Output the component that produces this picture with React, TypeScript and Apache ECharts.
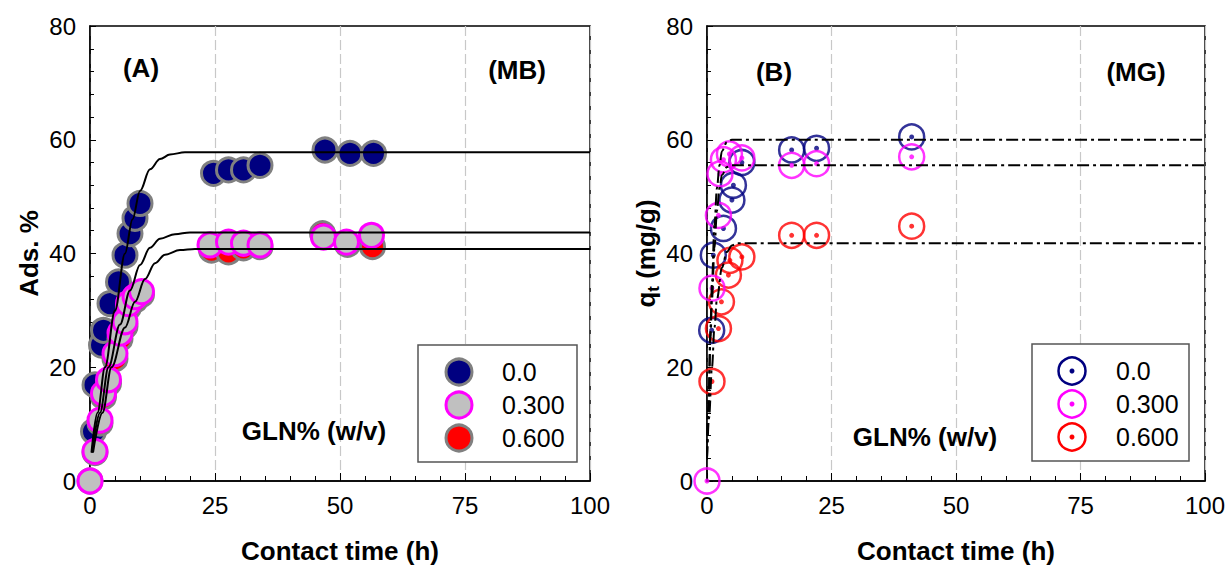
import React, { useEffect, useRef } from "react";
import * as echarts from "echarts";

// ---------- Panel A (MB) : Ads. % ----------
const A_T0 = [0.7, 1, 2.3, 2.7, 4, 5.7, 7, 8, 9, 10, 24.7, 27.7, 30.7, 34, 47, 52, 56.7];
const A_V0 = [8.7, 16.9, 23.9, 26.5, 31.2, 35, 39.7, 43.5, 46.2, 48.8, 54.1, 54.7, 54.7, 55.5, 58.2, 57.6, 57.6];
const A_T3 = [0, 1, 2, 2.7, 3.7, 5, 6, 7, 7.7, 9, 10.3, 24, 27.7, 30.7, 34, 46.7, 51.3, 56.3];
const A_V3 = [0, 5.2, 10.7, 15.4, 17.8, 22.4, 26, 28, 31.2, 32.4, 33.3, 41.5, 42, 41.8, 41.5, 42.9, 42, 43.2];
const A_T6 = [0, 1, 2, 2.7, 3.7, 5, 6, 7, 7.7, 9, 10.3, 24.3, 27.7, 30.7, 34, 46.5, 51.5, 56.5];
const A_V6 = [0, 5, 10.2, 14.8, 17.2, 21.5, 25, 27.2, 30.5, 31.8, 32.8, 40.6, 40.3, 41, 41.2, 43.5, 41.6, 41.2];

// fitted curves
const A_FIT0_T = [0.3, 1.5, 3, 5, 7, 8.5, 10, 12, 14, 16, 19, 100];
const A_FIT0_V = [5, 12, 20, 30, 40, 46, 51, 54.8, 56.6, 57.4, 57.8, 57.8];
const A_FIT3_T = [0.4, 2, 3.7, 6, 8, 10, 12, 14, 17, 20, 100];
const A_FIT3_V = [5, 12, 20, 27.5, 33.5, 38, 41, 42.6, 43.4, 43.7, 43.7];
const A_FIT6_T = [0.6, 2.5, 4.3, 7, 9, 11, 13, 15, 18, 21, 100];
const A_FIT6_V = [5, 12, 20, 27, 31.5, 35.5, 38.3, 39.8, 40.6, 40.8, 40.8];

// ---------- Panel B (MG) : q_t (mg/g) ----------
const B_T0 = [0.94, 1.27, 3.3, 5, 5.3, 7, 17, 22, 41.1];
const B_V0 = [26.5, 39.7, 44.4, 49.4, 52, 56, 58.2, 58.5, 60.5];
const B_T3 = [0, 1, 2.3, 2.6, 3.3, 4.5, 7, 17, 22, 41.1];
const B_V3 = [0, 33.9, 46.7, 54, 56.5, 57.5, 56.8, 55.5, 55.8, 57];
const B_T6 = [1, 2.3, 2.9, 4.3, 4.6, 7, 17, 22, 41.1];
const B_V6 = [17.5, 26.8, 31.5, 36.2, 38.8, 39.4, 43.2, 43.2, 44.8];

const B_FIT0_T = [0, 0.3, 0.7, 1, 1.5, 2, 2.5, 3, 4, 5, 100];
const B_FIT0_V = [4, 14, 27, 35, 45, 51.5, 55.5, 58, 59.6, 60, 60];
const B_FIT3_T = [0, 0.3, 0.7, 1, 1.5, 2, 2.5, 3, 4, 5, 100];
const B_FIT3_V = [4, 13, 25, 32, 41, 47.5, 51.5, 53.8, 55.2, 55.5, 55.5];
const B_FIT6_T = [0, 0.4, 1, 1.5, 2, 3, 4, 5, 6, 100];
const B_FIT6_V = [4, 11, 20, 27, 32, 37.5, 40.3, 41.4, 41.8, 41.8];

const LEGEND_LABELS = ["0.0", "0.300", "0.600"];
const X_TICKS = { min: 0, max: 100, interval: 25 };
const Y_TICKS = { min: 0, max: 80, interval: 20 };

const NAVY = "#000080";
const MAGENTA = "#ff00ff";
const RED = "#ff0000";
const GRAYFILL = "#c0c0c0";
const GRAYEDGE = "#808080";
const FONT = "Liberation Sans, Arial, sans-serif";

const zip = (t: number[], v: number[]) => t.map((x, i) => [x, v[i]]);

function App() {
  const ref = useRef<HTMLDivElement>(null);
  useEffect(() => {
    if (!ref.current) return;
    const chart = echarts.init(ref.current, null, { renderer: "svg" });

    const xAxisBase = (gridIndex: number) => ({
      type: "value",
      gridIndex,
      min: X_TICKS.min,
      max: X_TICKS.max,
      interval: X_TICKS.interval,
      name: "Contact time (h)",
      nameLocation: "middle",
      nameGap: 57,
      nameTextStyle: { fontFamily: FONT, fontSize: 26, fontWeight: "bold", color: "#000" },
      axisLine: { show: true, lineStyle: { color: "#000", width: 1.5 } },
      axisTick: { show: true, inside: true, length: 8, lineStyle: { color: "#000", width: 1 } },
      minorTick: { show: true, splitNumber: 5, length: 5, lineStyle: { color: "#000", width: 1 } },
      axisLabel: { fontFamily: FONT, fontSize: 24, color: "#000", margin: 12 },
      splitLine: { show: true, lineStyle: { color: "#c8c8c8", width: 1.2, type: [10, 4] } },
      minorSplitLine: { show: false },
    });
    const yAxisBase = (gridIndex: number, name: string, nameGap: number) => ({
      type: "value",
      gridIndex,
      min: Y_TICKS.min,
      max: Y_TICKS.max,
      interval: Y_TICKS.interval,
      name,
      nameLocation: "middle",
      nameGap,
      nameRotate: 90,
      nameTextStyle: {
        fontFamily: FONT,
        fontSize: 26,
        fontWeight: "bold",
        color: "#000",
        rich: {
          sub: { fontFamily: FONT, fontSize: 17, fontWeight: "bold", color: "#000", verticalAlign: "bottom", padding: [16, 0, 0, 0] },
        },
      },
      axisLine: { show: true, lineStyle: { color: "#000", width: 1.5 } },
      axisTick: { show: true, inside: true, length: 6, lineStyle: { color: "#000", width: 1 } },
      minorTick: { show: true, splitNumber: 5, length: 4, lineStyle: { color: "#000", width: 1 } },
      axisLabel: { fontFamily: FONT, fontSize: 24, color: "#000", margin: 14 },
      splitLine: { show: false },
    });

    const filled = (name: string, t: number[], v: number[], fill: string, edge: string, xi: number) => ({
      name,
      type: "scatter",
      xAxisIndex: xi,
      yAxisIndex: xi,
      data: zip(t, v),
      symbol: "circle",
      symbolSize: 24,
      clip: false,
      itemStyle: { color: fill, borderColor: edge, borderWidth: 3, opacity: 1 },
      emphasis: { disabled: true },
    });
    const ring = (name: string, t: number[], v: number[], color: string) => [
      {
        name,
        type: "scatter",
        xAxisIndex: 1,
        yAxisIndex: 1,
        data: zip(t, v),
        symbol: "circle",
        symbolSize: 25,
        clip: false,
        itemStyle: { color: "rgba(0,0,0,0)", borderColor: color, borderWidth: 2.5 },
        emphasis: { disabled: true },
      },
      {
        name: name + " dot",
        type: "scatter",
        xAxisIndex: 1,
        yAxisIndex: 1,
        data: zip(t, v),
        symbol: "circle",
        symbolSize: 5,
        clip: false,
        itemStyle: { color },
        emphasis: { disabled: true },
      },
    ];
    const curve = (name: string, t: number[], v: number[], xi: number, dashed: boolean) => ({
      name,
      type: "line",
      xAxisIndex: xi,
      yAxisIndex: xi,
      data: zip(t, v),
      showSymbol: false,
      symbol: "none",
      smooth: 0.35,
      smoothMonotone: "x",
      z: 5,
      lineStyle: { color: "#000", width: 2, type: dashed ? [12, 4, 3, 4] : "solid" },
      emphasis: { disabled: true },
    });

    const txt = (x: number, y: number, text: string, opts: any = {}) => ({
      type: "text",
      x,
      y,
      z: 100,
      style: {
        text,
        fontFamily: FONT,
        fontSize: 26,
        fontWeight: "bold",
        fill: "#000",
        textAlign: "center",
        textVerticalAlign: "middle",
        ...opts,
      },
    });

    const legendA: any[] = [
      { type: "rect", z: 100, shape: { x: 418, y: 345, width: 159, height: 117 }, style: { fill: "#fff", stroke: "#555", lineWidth: 1.5 } },
    ];
    const aFills = [NAVY, GRAYFILL, RED];
    const aEdges = [GRAYEDGE, MAGENTA, GRAYEDGE];
    const rowsA = [372, 405, 438];
    LEGEND_LABELS.forEach((lab, i) => {
      legendA.push({ type: "circle", z: 101, shape: { cx: 459, cy: rowsA[i], r: 13 }, style: { fill: aFills[i], stroke: aEdges[i], lineWidth: 3 } });
      legendA.push({ type: "text", z: 101, x: 502, y: rowsA[i], style: { text: lab, fontFamily: FONT, fontSize: 25, fill: "#000", textAlign: "left", textVerticalAlign: "middle" } });
    });
    const legendB: any[] = [
      { type: "rect", z: 100, shape: { x: 1032, y: 344, width: 157, height: 117 }, style: { fill: "#fff", stroke: "#555", lineWidth: 1.5 } },
    ];
    const bCols = [NAVY, MAGENTA, RED];
    const rowsB = [371, 404, 437];
    LEGEND_LABELS.forEach((lab, i) => {
      legendB.push({ type: "circle", z: 101, shape: { cx: 1072, cy: rowsB[i], r: 13.5 }, style: { fill: "none", stroke: bCols[i], lineWidth: 2.5 } });
      legendB.push({ type: "circle", z: 101, shape: { cx: 1072, cy: rowsB[i], r: 2.5 }, style: { fill: bCols[i] } });
      legendB.push({ type: "text", z: 101, x: 1116, y: rowsB[i], style: { text: lab, fontFamily: FONT, fontSize: 25, fill: "#000", textAlign: "left", textVerticalAlign: "middle" } });
    });

    const option: any = {
      animation: false,
      backgroundColor: "#fff",
      grid: [
        { left: 90, top: 26, width: 500, height: 455, show: true, borderColor: "#000", borderWidth: 1.5, backgroundColor: "transparent", containLabel: false },
        { left: 707, top: 26, width: 498, height: 455, show: true, borderColor: "#000", borderWidth: 1.5, backgroundColor: "transparent", containLabel: false },
      ],
      xAxis: [xAxisBase(0), xAxisBase(1)],
      yAxis: [yAxisBase(0, "Ads. %", 48), yAxisBase(1, "q{sub|t} (mg/g)", 44)],
      series: [
        filled("0.0", A_T0, A_V0, NAVY, GRAYEDGE, 0),
        filled("0.600", A_T6, A_V6, RED, GRAYEDGE, 0),
        filled("0.300", A_T3, A_V3, GRAYFILL, MAGENTA, 0),
        curve("fit 0.0", A_FIT0_T, A_FIT0_V, 0, false),
        curve("fit 0.300", A_FIT3_T, A_FIT3_V, 0, false),
        curve("fit 0.600", A_FIT6_T, A_FIT6_V, 0, false),
        ...ring("B 0.0", B_T0, B_V0, NAVY),
        ...ring("B 0.600", B_T6, B_V6, RED),
        ...ring("B 0.300", B_T3, B_V3, MAGENTA),
        curve("B fit 0.0", B_FIT0_T, B_FIT0_V, 1, true),
        curve("B fit 0.300", B_FIT3_T, B_FIT3_V, 1, true),
        curve("B fit 0.600", B_FIT6_T, B_FIT6_V, 1, true),
      ],
      graphic: [
        txt(141, 68, "(A)"),
        txt(517, 70, "(MB)"),
        txt(774, 72, "(B)"),
        txt(1136, 72, "(MG)"),
        txt(314, 431, "GLN% (w/v)"),
        txt(925, 437, "GLN% (w/v)"),
        ...legendA,
        ...legendB,
      ],
    };
    chart.setOption(option);
    return () => chart.dispose();
  }, []);
  return <div ref={ref} style={{ position: "absolute", left: 0, top: 0, width: 1232, height: 573 }} />;
}

export default App;
